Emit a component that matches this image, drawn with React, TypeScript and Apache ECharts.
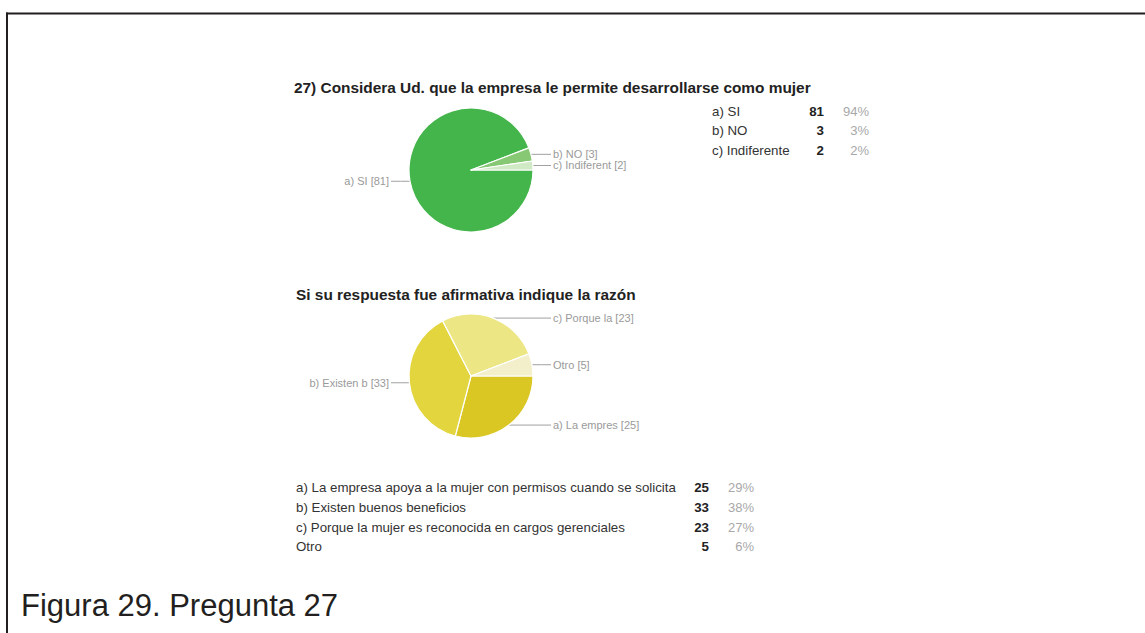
import React, { useEffect, useRef } from "react";
import * as echarts from "echarts";

// ---- Data ----
const q27Names = ["a) SI", "b) NO", "c) Indiferente"];
const q27PieLabels = ["a) SI", "b) NO", "c) Indiferent"];
const q27Values = [81, 3, 2];
const q27Pct = ["94%", "3%", "2%"];
const q27Colors = ["#43b54b", "#86c873", "#d0eac6"];

const razonNames = [
  "a) La empresa apoya a la mujer con permisos cuando se solicita",
  "b) Existen buenos beneficios",
  "c) Porque la mujer es reconocida en cargos gerenciales",
  "Otro",
];
const razonPieLabels = ["a) La empres", "b) Existen b", "c) Porque la", "Otro"];
const razonValues = [25, 33, 23, 5];
const razonPct = ["29%", "38%", "27%", "6%"];
const razonColors = ["#dac724", "#e3d53d", "#ece684", "#f3efca"];

const title1 = "27) Considera Ud. que la empresa le permite desarrollarse como mujer";
const title2 = "Si su respuesta fue afirmativa indique la razón";
const caption = "Figura 29. Pregunta 27";

const FONT = "'Liberation Sans', Arial, sans-serif";

function txt(text: string, x: number, y: number, size: number, color: string, opts: any = {}) {
  const align = opts.align || "left";
  return {
    type: "text",
    silent: true,
    style: {
      text,
      x,
      y,
      fill: color,
      font: `${opts.bold ? "bold " : ""}${size}px ${FONT}`,
      align,
      textAlign: align,
      verticalAlign: "middle",
      textVerticalAlign: "middle",
    },
  };
}

function makePie(
  cx: number,
  cy: number,
  values: number[],
  names: string[],
  shortLabels: string[],
  colors: string[]
) {
  return {
    type: "pie",
    center: [cx, cy],
    radius: 62,
    startAngle: 0,
    clockwise: true,
    avoidLabelOverlap: false,
    silent: true,
    emphasis: { disabled: true },
    itemStyle: { borderColor: "#ffffff", borderWidth: 1.2 },
    data: values.map((v, i) => ({
      value: v,
      name: names[i],
      itemStyle: { color: colors[i] },
    })),
    label: {
      show: true,
      position: "outside",
      color: "#9a9a9a",
      fontSize: 11,
      fontFamily: FONT,
      formatter: (p: any) => `${shortLabels[p.dataIndex]} [${p.value}]`,
    },
    labelLine: {
      show: true,
      length: 0,
      length2: 0,
      smooth: false,
      lineStyle: { color: "#a0a0a0", width: 1 },
    },
    labelLayout: (params: any) => {
      const pts = params.labelLinePoints;
      if (!pts) return {};
      const p1 = pts[0];
      const isRight = p1[0] >= cx;
      const endX = isRight ? 551 : 391;
      return {
        x: isRight ? 553 : 389,
        y: p1[1],
        align: isRight ? "left" : "right",
        verticalAlign: "middle",
        labelLinePoints: [
          [p1[0], p1[1]],
          [(p1[0] + endX) / 2, p1[1]],
          [endX, p1[1]],
        ],
      };
    },
  };
}

export default function App() {
  const ref = useRef<HTMLDivElement>(null);

  useEffect(() => {
    if (!ref.current) return;
    const chart = echarts.init(ref.current, undefined, { renderer: "svg" });

    const graphics: any[] = [];
    // frame
    graphics.push({
      type: "rect",
      silent: true,
      shape: { x: 6, y: 12.5, width: 1145, height: 2 },
      style: { fill: "#231f20" },
    });
    graphics.push({
      type: "rect",
      silent: true,
      shape: { x: 6, y: 12.5, width: 2, height: 640 },
      style: { fill: "#231f20" },
    });

    // titles
    graphics.push(txt(title1, 294, 87, 15.4, "#222222", { bold: true }));
    graphics.push(txt(title2, 296, 294, 15.4, "#222222", { bold: true }));

    // table 1
    const t1Y = [111, 130.5, 150];
    q27Names.forEach((n, i) => {
      graphics.push(txt(n, 712, t1Y[i], 13.3, "#333333"));
      graphics.push(txt(String(q27Values[i]), 824, t1Y[i], 13.3, "#222222", { bold: true, align: "right" }));
      graphics.push(txt(q27Pct[i], 869, t1Y[i], 13, "#a8a8a8", { align: "right" }));
    });

    // table 2
    const t2Y = [487, 507, 527, 546];
    razonNames.forEach((n, i) => {
      graphics.push(txt(n, 296, t2Y[i], 13.3, "#333333"));
      graphics.push(txt(String(razonValues[i]), 709, t2Y[i], 13.3, "#222222", { bold: true, align: "right" }));
      graphics.push(txt(razonPct[i], 754, t2Y[i], 13, "#a8a8a8", { align: "right" }));
    });

    // caption
    graphics.push(txt(caption, 21, 605, 31, "#231f20"));

    chart.setOption({
      animation: false,
      backgroundColor: "#ffffff",
      graphic: graphics,
      series: [
        makePie(471, 170, q27Values, q27Names, q27PieLabels, q27Colors),
        makePie(471, 376, razonValues, razonNames, razonPieLabels, razonColors),
      ],
    });

    return () => chart.dispose();
  }, []);

  return (
    <div
      ref={ref}
      style={{ position: "fixed", left: 0, top: 0, width: 1145, height: 633, background: "#fff" }}
    />
  );
}
